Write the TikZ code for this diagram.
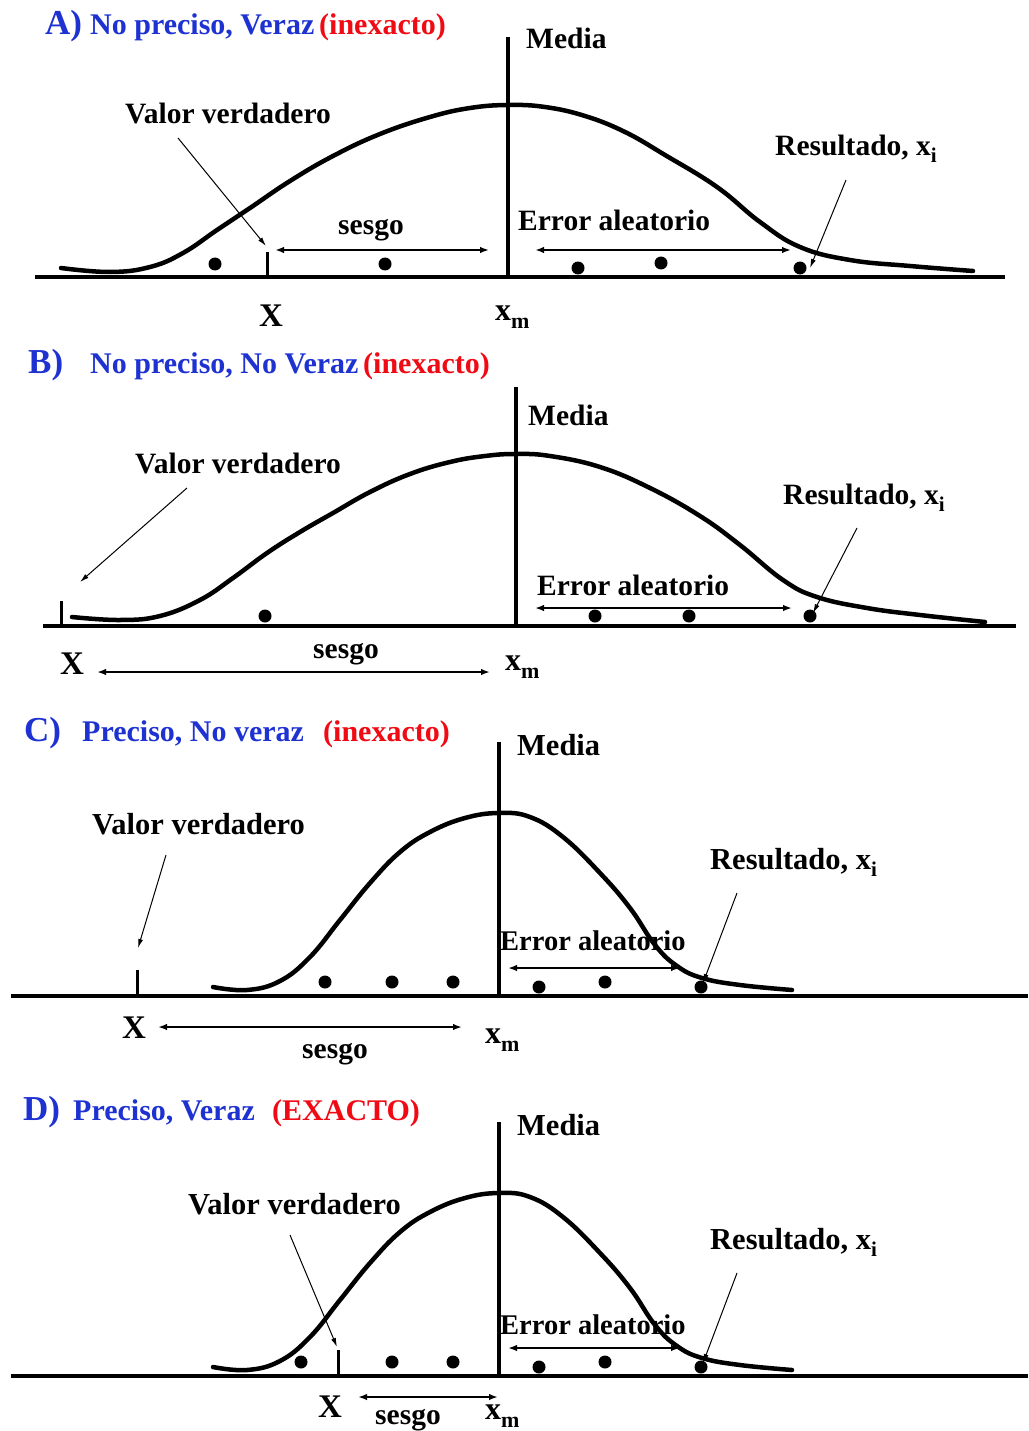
\documentclass[tikz,border=0pt]{standalone}
\usepackage{fontspec}
\setmainfont{Liberation Serif}
\usetikzlibrary{arrows.meta}
\definecolor{tblue}{RGB}{30,50,210}
\definecolor{tred}{RGB}{240,10,20}
\newcommand\mysub[1]{\raisebox{-7pt}{\fontsize{21}{22}\selectfont #1}}
\newcommand\xmlab{{\fontsize{32}{34}\selectfont x}\raisebox{-8pt}{\fontsize{22}{22}\selectfont m}}
\begin{document}
\begin{tikzpicture}[x=1pt,y=-1pt,
  lbl/.style={font=\bfseries\fontsize{29.5}{34}\selectfont, inner sep=0pt, anchor=base west},
  lblc/.style={font=\bfseries\fontsize{30.5}{34}\selectfont, inner sep=0pt, anchor=base west},
  errc/.style={font=\bfseries\fontsize{28.5}{34}\selectfont, inner sep=0pt, anchor=base west},
  ttl/.style={font=\bfseries\fontsize{30}{34}\selectfont, inner sep=0pt, anchor=base west, text=tblue},
  red/.style={ttl, text=tred},
  panl/.style={font=\bfseries\fontsize{35}{40}\selectfont, inner sep=0pt, anchor=base west, text=tblue},
  bigX/.style={font=\bfseries\fontsize{33}{36}\selectfont, inner sep=0pt, anchor=base},
  axis/.style={line width=4pt},
  meanline/.style={line width=4pt},
  curve/.style={line width=4.5pt, line join=round, line cap=round},
  tickmark/.style={line width=3pt},
  dot/.style={circle, fill=black, inner sep=0pt, minimum size=13pt},
  dim/.style={line width=1.8pt, {Latex[length=9pt,width=6.5pt]}-{Latex[length=9pt,width=6.5pt]}},
  ptr/.style={line width=1pt, -{Latex[length=9pt,width=5pt]}}]
\useasboundingbox (0,0) rectangle (1028,1431);
\clip (0,0) rectangle (1028,1431);

% ================= Panel A =================
\node[panl] (A-lab) at (45,35) {A)};
\node[ttl] (A-title) at (90,35) {No preciso, Veraz};
\node[red] (A-red) at (319,35) {(inexacto)};
\coordinate (A-a1) at (35,277); \coordinate (A-a2) at (1005,277);
\draw[axis] (A-a1) -- (A-a2);
\coordinate (A-m1) at (508,37); \coordinate (A-m2) at (508,277);
\draw[meanline] (A-m1) -- (A-m2);
\node[lbl] (A-media) at (526,49) {Media};
\draw[curve] plot[smooth, tension=0.7] coordinates {(61,268) (110,272) (150,267) (183,253) (217,230) (250,208) (290,181) (333,156) (380,134) (430,117) (470,108) (508,105) (545,107) (585,116) (625,132) (665,155) (717,187) (760,222) (800,247) (850,260) (910,266) (973,271)};
\coordinate (A-t1) at (267,252); \coordinate (A-t2) at (267,277);
\draw[tickmark] (A-t1) -- (A-t2);
\node[lbl] (A-vv) at (125,124) {Valor verdadero};
\coordinate (A-p1) at (178,138); \coordinate (A-p2) at (266,246);
\draw[ptr] (A-p1) -- (A-p2);
\coordinate (A-s1) at (275,250); \coordinate (A-s2) at (489,250);
\draw[dim] (A-s1) -- (A-s2);
\node[lbl, anchor=base] (A-sesgo) at (371,235) {sesgo};
\node[lbl] (A-err) at (518,231) {Error aleatorio};
\coordinate (A-e1) at (535,250); \coordinate (A-e2) at (791,250);
\draw[dim] (A-e1) -- (A-e2);
\node[lbl] (A-res) at (775,156) {Resultado, x\mysub{i}};
\coordinate (A-r1) at (846,180); \coordinate (A-r2) at (810,268);
\draw[ptr] (A-r1) -- (A-r2);
\node[bigX] (A-X) at (271,326) {X};
\node[lbl] (A-xm) at (495,320) {\xmlab};
\node[dot] (A-d1) at (215,264) {};
\node[dot] (A-d2) at (385,264) {};
\node[dot] (A-d3) at (578,268) {};
\node[dot] (A-d4) at (661,263) {};
\node[dot] (A-d5) at (800,268) {};

% ================= Panel B =================
\node[panl] (B-lab) at (28,373) {B)};
\node[ttl] (B-title) at (90,373) {No preciso, No Veraz};
\node[red] (B-red) at (363,373) {(inexacto)};
\coordinate (B-a1) at (43,626); \coordinate (B-a2) at (1016,626);
\draw[axis] (B-a1) -- (B-a2);
\coordinate (B-m1) at (516,387); \coordinate (B-m2) at (516,626);
\draw[meanline] (B-m1) -- (B-m2);
\node[lbl] (B-media) at (528,425) {Media};
\draw[curve] plot[smooth, tension=0.7] coordinates {(72,617) (120,620) (160,616) (200,600) (233,578) (267,553) (300,532) (333,513) (370,492) (410,474) (450,462) (485,456) (516,454) (550,456) (600,467) (650,488) (700,516) (740,545) (783,580) (817,597) (867,608) (920,615) (985,622)};
\coordinate (B-t1) at (61,601); \coordinate (B-t2) at (61,626);
\draw[tickmark] (B-t1) -- (B-t2);
\node[lbl] (B-vv) at (135,473) {Valor verdadero};
\coordinate (B-p1) at (187,488); \coordinate (B-p2) at (80,582);
\draw[ptr] (B-p1) -- (B-p2);
\node[lbl] (B-err) at (537,595) {Error aleatorio};
\coordinate (B-e1) at (535,608); \coordinate (B-e2) at (792,608);
\draw[dim] (B-e1) -- (B-e2);
\node[lbl] (B-res) at (783,504) {Resultado, x\mysub{i}};
\coordinate (B-r1) at (857,528); \coordinate (B-r2) at (813,613);
\draw[ptr] (B-r1) -- (B-r2);
\node[bigX] (B-X) at (72,674) {X};
\coordinate (B-s1) at (97,672); \coordinate (B-s2) at (490,672);
\draw[dim] (B-s1) -- (B-s2);
\node[lbl, anchor=base] (B-sesgo) at (346,658) {sesgo};
\node[lbl] (B-xm) at (505,670) {\xmlab};
\node[dot] (B-d1) at (265,616) {};
\node[dot] (B-d2) at (595,616) {};
\node[dot] (B-d3) at (689,616) {};
\node[dot] (B-d4) at (810,616) {};

% ================= Panel C =================
\node[panl] (C-lab) at (24,741) {C)};
\node[ttl] (C-title) at (82,741) {Preciso, No veraz};
\node[red] (C-red) at (323,741) {(inexacto)};
\coordinate (C-a1) at (11,996); \coordinate (C-a2) at (1028,996);
\draw[axis] (C-a1) -- (C-a2);
\coordinate (C-m1) at (499,742); \coordinate (C-m2) at (499,996);
\draw[meanline] (C-m1) -- (C-m2);
\node[lblc] (C-media) at (517,755) {Media};
\draw[curve] plot[smooth, tension=0.7] coordinates {(213,987) (247,990) (280,981) (310,957) (340,920) (370,883) (400,852) (430,832) (465,818) (499,813) (530,817) (563,837) (600,873) (630,908) (655,945) (677,966) (702,978) (740,985) (792,990)};
\coordinate (C-t1) at (137,970); \coordinate (C-t2) at (137,996);
\draw[tickmark] (C-t1) -- (C-t2);
\node[lblc] (C-vv) at (92,834) {Valor verdadero};
\coordinate (C-p1) at (166,855); \coordinate (C-p2) at (138,948);
\draw[ptr] (C-p1) -- (C-p2);
\node[errc] (C-err) at (500,950) {Error aleatorio};
\coordinate (C-e1) at (508,968); \coordinate (C-e2) at (680,968);
\draw[dim] (C-e1) -- (C-e2);
\node[lblc] (C-res) at (710,869) {Resultado, x\mysub{i}};
\coordinate (C-r1) at (737,893); \coordinate (C-r2) at (703,983);
\draw[ptr] (C-r1) -- (C-r2);
\node[bigX] (C-X) at (134,1038) {X};
\coordinate (C-s1) at (158,1027); \coordinate (C-s2) at (462,1027);
\draw[dim] (C-s1) -- (C-s2);
\node[lbl, anchor=base] (C-sesgo) at (335,1058) {sesgo};
\node[lbl] (C-xm) at (485,1043) {\xmlab};
\node[dot] (C-d1) at (325,982) {};
\node[dot] (C-d2) at (392,982) {};
\node[dot] (C-d3) at (453,982) {};
\node[dot] (C-d4) at (539,987) {};
\node[dot] (C-d5) at (605,982) {};
\node[dot] (C-d6) at (701,987) {};

% ================= Panel D =================
\node[panl] (D-lab) at (23,1120) {D)};
\node[ttl] (D-title) at (73,1120) {Preciso, Veraz};
\node[red] (D-red) at (272,1120) {(EXACTO)};
\coordinate (D-a1) at (11,1376); \coordinate (D-a2) at (1028,1376);
\draw[axis] (D-a1) -- (D-a2);
\coordinate (D-m1) at (499,1122); \coordinate (D-m2) at (499,1376);
\draw[meanline] (D-m1) -- (D-m2);
\node[lblc] (D-media) at (517,1135) {Media};
\draw[curve] plot[smooth, tension=0.7] coordinates {(213,1367) (247,1370) (280,1361) (310,1337) (340,1300) (370,1263) (400,1232) (430,1212) (465,1198) (499,1193) (530,1197) (563,1217) (600,1253) (630,1288) (655,1325) (677,1346) (702,1358) (740,1365) (792,1370)};
\coordinate (D-t1) at (338,1350); \coordinate (D-t2) at (338,1376);
\draw[tickmark] (D-t1) -- (D-t2);
\node[lblc] (D-vv) at (188,1214) {Valor verdadero};
\coordinate (D-p1) at (290,1235); \coordinate (D-p2) at (337,1347);
\draw[ptr] (D-p1) -- (D-p2);
\node[errc] (D-err) at (500,1334) {Error aleatorio};
\coordinate (D-e1) at (508,1348); \coordinate (D-e2) at (680,1348);
\draw[dim] (D-e1) -- (D-e2);
\node[lblc] (D-res) at (710,1249) {Resultado, x\mysub{i}};
\coordinate (D-r1) at (737,1273); \coordinate (D-r2) at (703,1363);
\draw[ptr] (D-r1) -- (D-r2);
\node[bigX] (D-X) at (330,1417) {X};
\coordinate (D-s1) at (358,1397); \coordinate (D-s2) at (498,1397);
\draw[dim] (D-s1) -- (D-s2);
\node[lbl, anchor=base] (D-sesgo) at (408,1424) {sesgo};
\node[lbl] (D-xm) at (485,1419) {\xmlab};
\node[dot] (D-d1) at (301,1362) {};
\node[dot] (D-d2) at (392,1362) {};
\node[dot] (D-d3) at (453,1362) {};
\node[dot] (D-d4) at (539,1367) {};
\node[dot] (D-d5) at (605,1362) {};
\node[dot] (D-d6) at (701,1367) {};
\end{tikzpicture}
\end{document}
